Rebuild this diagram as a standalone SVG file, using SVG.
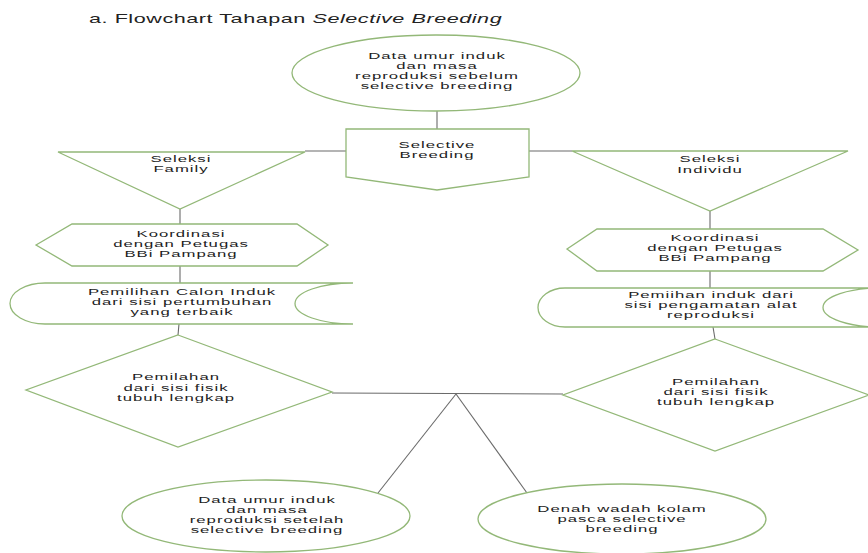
<svg xmlns="http://www.w3.org/2000/svg" width="868" height="553" viewBox="0 0 868 553">
<style>
.s{fill:#fff;stroke:#93b878;stroke-width:1.3}
.c{fill:none;stroke:#6a6a6a;stroke-width:1.1}
.t{font-family:"Liberation Sans",Arial,sans-serif;font-size:9.3px;letter-spacing:0.55px;fill:#1c1c1c;text-anchor:middle}
.ti{font-family:"Liberation Sans",Arial,sans-serif;font-size:12px;letter-spacing:0.3px;fill:#222}
</style>
<rect width="868" height="553" fill="#fff"/>
<g id="title" transform="translate(89 0) scale(1.8 1)"><text class="ti" x="0" y="23">a. Flowchart Tahapan <tspan font-style="italic">Selective Breeding</tspan></text></g>
<g id="connectors">
<line class="c" x1="437" y1="111" x2="437" y2="129"/>
<line class="c" x1="305" y1="151" x2="346" y2="151"/>
<line class="c" x1="529" y1="151" x2="572" y2="151"/>
<line class="c" x1="180" y1="209" x2="180" y2="224"/>
<line class="c" x1="710" y1="211" x2="710" y2="229"/>
<line class="c" x1="180" y1="266" x2="180" y2="283"/>
<line class="c" x1="710" y1="271" x2="710" y2="288"/>
<line class="c" x1="179" y1="324" x2="178" y2="335"/>
<line class="c" x1="713" y1="327" x2="715" y2="339"/>
<line class="c" x1="332" y1="393" x2="563" y2="394"/>
<line class="c" x1="456" y1="394" x2="378" y2="493"/>
<line class="c" x1="456" y1="394" x2="527" y2="493"/>
</g>
<g id="n-data-sebelum">
<ellipse class="s" cx="436" cy="73" rx="144" ry="38"/>
<g transform="translate(437 0) scale(1.8 1)">
<text class="t" x="0" y="59">Data umur induk</text>
<text class="t" x="0" y="69">dan masa</text>
<text class="t" x="0" y="79">reproduksi sebelum</text>
<text class="t" x="0" y="89">selective breeding</text>
</g>
</g>
<g id="n-selective-breeding">
<polygon class="s" points="346,129 529,129 529,177 437,190 346,177"/>
<g transform="translate(437 0) scale(1.8 1)">
<text class="t" x="0" y="148">Selective</text>
<text class="t" x="0" y="158">Breeding</text>
</g>
</g>
<g id="n-seleksi-family">
<polygon class="s" points="58,152 305,152 180,209"/>
<g transform="translate(181 0) scale(1.8 1)">
<text class="t" x="0" y="162">Seleksi</text>
<text class="t" x="0" y="172">Family</text>
</g>
</g>
<g id="n-seleksi-individu">
<polygon class="s" points="572,151 848,151 710,211"/>
<g transform="translate(710 0) scale(1.8 1)">
<text class="t" x="0" y="162">Seleksi</text>
<text class="t" x="0" y="173">Individu</text>
</g>
</g>
<g id="n-koordinasi-kiri">
<polygon class="s" points="36,245 72,224 297,224 328,245 297,266 72,266"/>
<g transform="translate(181 0) scale(1.8 1)">
<text class="t" x="0" y="237">Koordinasi</text>
<text class="t" x="0" y="247">dengan Petugas</text>
<text class="t" x="0" y="257">BBi Pampang</text>
</g>
</g>
<g id="n-koordinasi-kanan">
<polygon class="s" points="567,249 597,229 823,229 858,250 823,271 597,271"/>
<g transform="translate(715 0) scale(1.8 1)">
<text class="t" x="0" y="241">Koordinasi</text>
<text class="t" x="0" y="251">dengan Petugas</text>
<text class="t" x="0" y="261">BBi Pampang</text>
</g>
</g>
<g id="n-pemilihan-calon">
<path class="s" d="M45,283 L353,283 A58,20.5 0 0 0 353,324 L45,324 A35,20.5 0 0 1 45,283 Z"/>
<g transform="translate(182 0) scale(1.8 1)">
<text class="t" x="0" y="295">Pemilihan Calon Induk</text>
<text class="t" x="0" y="305">dari sisi pertumbuhan</text>
<text class="t" x="0" y="315">yang terbaik</text>
</g>
</g>
<g id="n-pemiihan-induk">
<path class="s" d="M565,288 L881,288 A58,19.5 0 0 0 881,327 L565,327 A27,19.5 0 0 1 565,288 Z"/>
<g transform="translate(711 0) scale(1.8 1)">
<text class="t" x="0" y="298">Pemiihan induk dari</text>
<text class="t" x="0" y="308">sisi pengamatan alat</text>
<text class="t" x="0" y="318">reproduksi</text>
</g>
</g>
<g id="n-pemilahan-kiri">
<polygon class="s" points="178,335 332,392 178,447 26,390"/>
<g transform="translate(176 0) scale(1.8 1)">
<text class="t" x="0" y="380">Pemilahan</text>
<text class="t" x="0" y="391">dari sisi fisik</text>
<text class="t" x="0" y="401">tubuh lengkap</text>
</g>
</g>
<g id="n-pemilahan-kanan">
<polygon class="s" points="715,339 869,395 715,451 563,395"/>
<g transform="translate(716 0) scale(1.8 1)">
<text class="t" x="0" y="385">Pemilahan</text>
<text class="t" x="0" y="395">dari sisi fisik</text>
<text class="t" x="0" y="405">tubuh lengkap</text>
</g>
</g>
<g id="n-data-setelah">
<ellipse class="s" cx="266" cy="516" rx="144" ry="36"/>
<g transform="translate(267 0) scale(1.8 1)">
<text class="t" x="0" y="503">Data umur induk</text>
<text class="t" x="0" y="513">dan masa</text>
<text class="t" x="0" y="523">reproduksi setelah</text>
<text class="t" x="0" y="533">selective breeding</text>
</g>
</g>
<g id="n-denah">
<ellipse class="s" cx="622" cy="519" rx="144" ry="35"/>
<g transform="translate(622 0) scale(1.8 1)">
<text class="t" x="0" y="512">Denah wadah kolam</text>
<text class="t" x="0" y="522">pasca selective</text>
<text class="t" x="0" y="532">breeding</text>
</g>
</g>
</svg>
